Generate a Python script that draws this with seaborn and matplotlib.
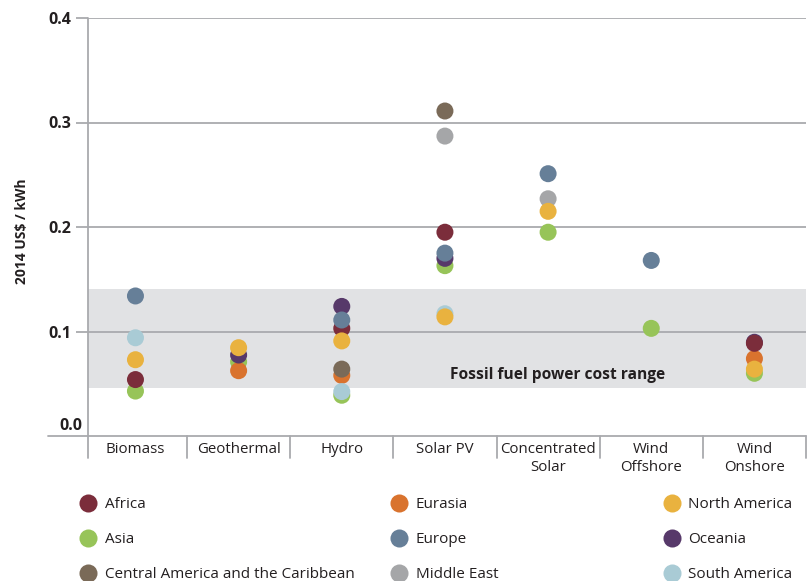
import pandas as pd
import numpy as np
import matplotlib
matplotlib.use('Agg')
import matplotlib.pyplot as plt
import seaborn as sns
from matplotlib.lines import Line2D

# ------------------------------------------------------------
# Datos: costo nivelado por tecnología y región (2014 US$/kWh)
# ------------------------------------------------------------
tecnologias = ['Biomass', 'Geothermal', 'Hydro', 'Solar PV',
               'Concentrated\nSolar', 'Wind\nOffshore', 'Wind\nOnshore']

regiones = ['Africa', 'Asia', 'Central America and the Caribbean',
            'Eurasia', 'Europe', 'Middle East',
            'North America', 'Oceania', 'South America']

colores = ['#7B2D3B', '#97C459', '#7A6A58',
           '#D9732E', '#667F98', '#A5A6A8',
           '#E9B23F', '#57396A', '#A9CBD5']

# valores por región (None = sin dato), en el orden de tecnologias
asia          = [0.043, 0.071, 0.039, 0.163, 0.195, 0.103, 0.060]
eurasia       = [None,  0.0625, 0.058, None, None,  None,  0.074]
oceania       = [None,  0.0775, 0.124, 0.170, None, None,  0.0897]
south_america = [0.094, None,  0.0425, 0.117, None, None,  None]
africa        = [0.054, None,  0.103, 0.195, None,  None,  0.0887]
europe        = [0.134, None,  0.111, 0.175, 0.251, 0.168, None]
central_am    = [None,  None,  0.064, 0.311, None,  None,  None]
middle_east   = [None,  None,  None,  0.287, 0.227, None,  None]
north_america = [0.073, 0.0845, 0.091, 0.114, 0.215, None, 0.064]

# orden de dibujo (los últimos quedan encima)
series = [('Asia', asia), ('Eurasia', eurasia), ('Oceania', oceania),
          ('South America', south_america), ('Africa', africa),
          ('Europe', europe), ('Central America and the Caribbean', central_am),
          ('Middle East', middle_east), ('North America', north_america)]

fosil_min, fosil_max = 0.046, 0.141

filas = []
for region, vals in series:
    for tec, v in zip(tecnologias, vals):
        if v is not None:
            filas.append({'Tecnologia': tec, 'Region': region, 'Costo': v})
df = pd.DataFrame(filas)
df['x'] = df['Tecnologia'].map({t: i for i, t in enumerate(tecnologias)})

paleta = dict(zip(regiones, colores))

# ------------------------------------------------------------
# Gráfico
# ------------------------------------------------------------
sns.set_theme(style='white')
plt.rcParams['font.family'] = ['Open Sans', 'DejaVu Sans']

gris = '#A9AAAE'
texto = '#231F20'

fig = plt.figure(figsize=(8.12, 5.81), dpi=100)
ax = fig.add_axes([88/812, 1 - 436/581, (806 - 88)/812, (436 - 18)/581])

ax.axhspan(fosil_min, fosil_max, color='#E1E2E4', zorder=0, lw=0)
for y in [0.1, 0.2, 0.3, 0.4]:
    ax.axhline(y, color=gris, lw=1.3, zorder=1)

sns.scatterplot(data=df, x='x', y='Costo', hue='Region', palette=paleta,
                s=150, edgecolor='none', linewidth=0, legend=False,
                zorder=3, ax=ax)

ax.set_xlim(-0.46, 6.5)
ax.set_ylim(0, 0.4)
for s in ax.spines.values():
    s.set_visible(False)

# eje 0 y eje vertical extendidos
ax.axhline(0, xmin=-0.056, xmax=1, color=gris, lw=1.3, clip_on=False)
ax.plot([0, 0], [-0.053, 1], transform=ax.transAxes, color=gris,
        lw=1.3, clip_on=False)
for xs in np.arange(0.5, 7, 1.0):
    ax.plot([xs, xs], [-0.053, 0], transform=ax.get_xaxis_transform(),
            color=gris, lw=1.3, clip_on=False)

ax.set_yticks([0.1, 0.2, 0.3, 0.4])
ax.set_yticklabels(['0.1', '0.2', '0.3', '0.4'],
                   fontweight='bold', color=texto, fontsize=11.5)
ax.tick_params(axis='y', length=9, width=1.3, color=gris, pad=3, left=True)
ax.text(-0.0084, 0.0144, '0.0', transform=ax.transAxes, ha='right',
        va='baseline', fontweight='bold', color=texto, fontsize=11.5)

ax.set_xticks(range(len(tecnologias)))
ax.set_xticklabels(tecnologias, fontsize=10.8, color=texto, linespacing=1.3)
ax.tick_params(axis='x', length=0, pad=4)
ax.set_xlabel('')
ax.set_ylabel('2014 US\\$ / kWh', fontweight='bold', color=texto,
              fontsize=10)
ax.yaxis.set_label_coords(-0.082, 0.49)

ax.text(4.09, 0.058, 'Fossil fuel power cost range', ha='center',
        va='center', fontweight='bold', fontsize=11.2, color=texto)

# leyenda en tres columnas
col_x = [80.7/812, 391.4/812, 664/812]
for c in range(3):
    handles = []
    for r in range(3):
        reg = regiones[c*3 + r]
        handles.append(Line2D([], [], marker='o', linestyle='none',
                              markersize=13, markerfacecolor=paleta[reg],
                              markeredgewidth=0, label=reg))
    fig.legend(handles=handles, loc='upper left',
               bbox_to_anchor=(col_x[c], 1 - 497.4/581), frameon=False,
               fontsize=11, labelcolor=texto, handlelength=1.0,
               handletextpad=0.59, labelspacing=1.3, borderpad=0,
               borderaxespad=0)

plt.savefig('out.png', dpi=100)
